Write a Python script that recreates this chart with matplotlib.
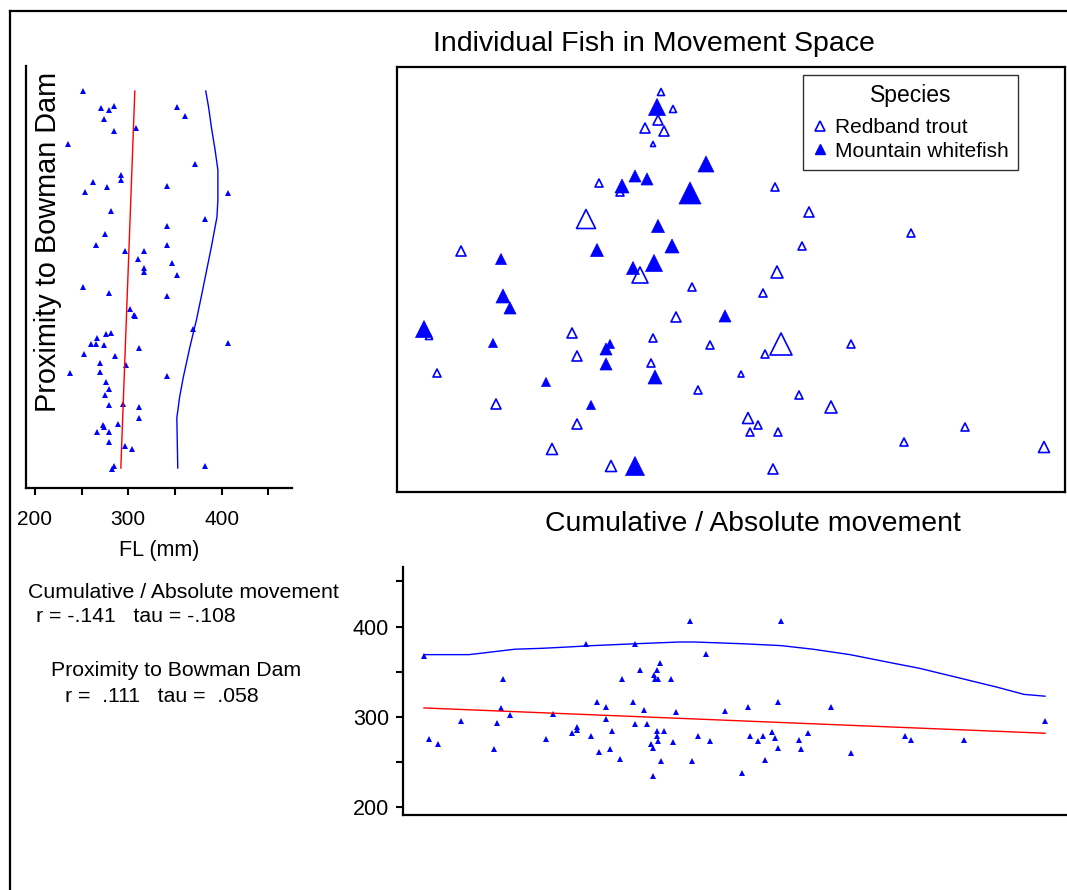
# -*- coding: utf-8 -*-
"""
Individual fish in movement space, with FL margins
"""
import matplotlib
matplotlib.use("Agg")
import matplotlib.pyplot as plt
from matplotlib.lines import Line2D
import numpy as np

plt.rcParams['font.family'] = ['Liberation Sans', 'DejaVu Sans']

# ==================== data ====================
# movement space: x = cumulative / absolute movement, y = proximity to Bowman Dam (arbitrary units)
# size = marker width class (bigger fish -> bigger triangle)
trout_x = [264, 276, 261, 248, 267, 256, 202, 223, 378, 412, 189, 514, 64, 405, 380,
           243, 366, 295, 279, 175, 256, 313, 384, 454, 368, 180, 40, 254, 344, 301,
           402, 99, 434, 351, 361, 353, 381, 180, 568, 507, 155, 647, 214, 376, 32]
trout_y = [400, 383, 372, 364, 361, 348, 309, 300, 305, 280, 273, 259, 241, 246, 220,
           217, 199, 205, 175, 159, 154, 147, 148, 148, 138, 136, 119, 129, 118, 102,
           97, 88, 85, 74, 67, 60, 60, 68, 65, 50, 43, 45, 26, 23, 156]
trout_size = [7, 7, 10, 10, 10, 5, 8, 8, 8, 10, 19, 8, 10, 8, 12,
              16, 8, 8, 10, 10, 8, 8, 22, 8, 8, 10, 8, 8, 6, 8,
              8, 10, 12, 11, 8, 8, 8, 10, 8, 8, 11, 11, 11, 10, 7]

white_x = [260, 309, 293, 238, 250, 225, 261, 200, 275, 104, 257, 236, 106, 113, 27,
           328, 96, 213, 209, 209, 258, 149, 194, 238]
white_y = [385, 328, 299, 316, 313, 306, 266, 242, 246, 233, 229, 224, 196, 184, 163,
           176, 149, 148, 143, 128, 115, 110, 87, 26]
white_size = [17, 16, 22, 12, 12, 14, 13, 13, 14, 11, 17, 13, 14, 12, 17,
              12, 9, 9, 12, 12, 14, 9, 9, 19]

# left margin: FL (mm) against proximity
prox_fl = [251, 271, 279, 285, 274, 352, 361, 308, 285, 235, 371, 292, 292, 262, 277,
           342, 254, 407, 282, 382, 342, 275, 265, 342, 297, 317, 310, 347, 317, 317,
           352, 251, 279, 342, 302, 306, 307, 369, 276, 282, 266, 260, 265, 274, 407,
           311, 253, 286, 238, 270, 298, 270, 342, 276, 279, 275, 294, 311, 279, 311,
           289, 273, 274, 266, 279, 279, 296, 304, 382, 285, 283]
prox_y = [401, 384, 382, 386, 373, 385, 376, 364, 361, 348, 328, 317, 312, 310, 305,
          306, 300, 299, 281, 273, 266, 258, 247, 247, 241, 241, 233, 229, 224, 220,
          217, 205, 199, 196, 183, 177, 176, 163, 158, 159, 154, 148, 148, 147, 149,
          144, 138, 136, 119, 129, 127, 120, 116, 110, 103, 97, 88, 85, 87, 74,
          68, 67, 65, 60, 60, 50, 46, 43, 26, 26, 23]
prox_lin_y = [24, 401]
prox_lin_fl = [292, 307]
prox_smooth_y = [24, 74, 95, 115, 145, 172, 199, 222, 245, 275, 292, 322, 342, 365, 385, 401]
prox_smooth_fl = [353, 352, 355, 359, 366, 373, 379, 384, 389, 395, 396, 396, 393, 389, 386, 383]

# bottom margin: FL (mm) against cumulative / absolute movement
move_x = [27, 32, 41, 64, 97, 100, 104, 106, 113, 149, 156, 175, 180, 180, 189,
          194, 200, 202, 209, 209, 213, 215, 223, 225, 236, 238, 238, 243, 247, 250,
          254, 256, 256, 257, 258, 260, 260, 260, 261, 261, 263, 264, 267, 274, 276,
          279, 293, 295, 301, 309, 313, 328, 345, 351, 353, 361, 366, 368, 375, 378,
          381, 381, 384, 402, 404, 411, 434, 454, 508, 514, 567, 648]
move_fl = [367, 276, 270, 296, 265, 293, 310, 342, 302, 276, 303, 282, 289, 286, 381,
           279, 317, 261, 311, 298, 264, 284, 254, 342, 317, 381, 292, 352, 308, 292,
           270, 266, 235, 346, 342, 352, 284, 279, 273, 342, 360, 251, 284, 342, 272,
           305, 406, 251, 279, 370, 273, 307, 238, 311, 279, 273, 279, 252, 283, 277,
           317, 266, 406, 275, 264, 282, 311, 260, 279, 275, 275, 295]
move_lin_x = [27, 648]
move_lin_fl = [310, 282]
move_smooth_x = [27, 72, 95, 118, 145, 163, 196, 237, 283, 297, 347, 384, 416, 453,
                 494, 522, 563, 600, 627, 648]
move_smooth_fl = [369, 369, 372, 375, 376, 377, 379, 381, 383, 383, 381, 379, 375, 369,
                  360, 354, 343, 333, 325, 323]

fl_ticks = [200, 250, 300, 350, 400, 450]
fl_ticklabels = ['200', '', '300', '', '400', '']

# ==================== figure ====================
W, H = 1067, 890
fig = plt.figure(figsize=(W / 100, H / 100), dpi=100)
BLUE, RED = '#0000ff', '#ff0000'


def px_axes(l, t, r, b):
    """axes placed by pixel box (left, top, right, bottom)"""
    return fig.add_axes([l / W, 1 - b / H, (r - l) / W, (b - t) / H])


def to_ms(width_px):
    return np.asarray(width_px) * 0.72


# outer frame (left + top only)
fig.add_artist(Line2D([10 / W, 10 / W], [0, 1 - 11 / H], color='black', lw=1.6))
fig.add_artist(Line2D([10 / W, 1], [1 - 11 / H, 1 - 11 / H], color='black', lw=1.6))

# ---- main movement space ----
ax = px_axes(397, 67, 1065, 492)
ax.scatter(trout_x, trout_y, s=to_ms(trout_size) ** 2, marker='^',
           facecolors='none', edgecolors=BLUE, linewidths=1.2)
ax.scatter(white_x, white_y, s=to_ms(white_size) ** 2, marker='^',
           facecolors=BLUE, edgecolors=BLUE, linewidths=0.5)
ax.set_xlim(0, 668)
ax.set_ylim(0, 425)
ax.set_xticks([])
ax.set_yticks([])
for sp in ax.spines.values():
    sp.set_linewidth(1.6)

handles = [
    Line2D([], [], marker='^', ls='none', ms=6.5, mfc='none', mec=BLUE, mew=1.2, label='Redband trout'),
    Line2D([], [], marker='^', ls='none', ms=6.5, mfc=BLUE, mec=BLUE, label='Mountain whitefish'),
]
leg = ax.legend(handles=handles, title='Species', loc='upper right',
                bbox_to_anchor=(1018 / W, 1 - 75 / H), bbox_transform=fig.transFigure,
                borderaxespad=0, fancybox=False, frameon=True, edgecolor='black',
                fontsize=15, title_fontsize=16.5, handlelength=0.8, handletextpad=0.3,
                labelspacing=0.2, borderpad=0.45)
leg.get_frame().set_linewidth(1.0)
leg._legend_box.sep = 8  # gap between "Species" and the entries

fig.text(654 / W, 1 - 44 / H, 'Individual Fish in Movement Space',
         ha='center', va='center', fontsize=20.5)

# ---- left margin: FL vs proximity ----
axl = px_axes(26, 66, 292, 488)
axl.plot(prox_fl, prox_y, '^', color=BLUE, ms=4, mew=0)
axl.plot(prox_lin_fl, prox_lin_y, color=RED, lw=1.0)
axl.plot(prox_smooth_fl, prox_smooth_y, color=BLUE, lw=1.0)
axl.set_xlim(190.4, 475.4)
axl.set_ylim(4, 426)
axl.set_xticks(fl_ticks)
axl.set_xticklabels(fl_ticklabels, fontsize=15)
axl.set_yticks([])
axl.tick_params(axis='x', length=5, width=1.5, pad=11)
axl.spines['top'].set_visible(False)
axl.spines['right'].set_visible(False)
axl.spines['left'].set_linewidth(1.6)
axl.spines['bottom'].set_linewidth(1.6)
axl.set_xlabel('FL (mm)', fontsize=15.5, labelpad=8)

fig.text(48 / W, 1 - 242 / H, 'Proximity to Bowman Dam', rotation=90,
         ha='center', va='center', fontsize=20.8)

# ---- bottom margin: FL vs movement ----
axb = px_axes(403, 567, 1067, 815)
axb.plot(move_x, move_fl, '^', color=BLUE, ms=4, mew=0)
axb.plot(move_lin_x, move_lin_fl, color=RED, lw=1.0)
axb.plot(move_smooth_x, move_smooth_fl, color=BLUE, lw=1.0)
axb.set_xlim(6, 670)
axb.set_ylim(191.5, 466)
axb.set_yticks(fl_ticks)
axb.set_yticklabels(fl_ticklabels, fontsize=15.5)
axb.set_xticks([])
axb.tick_params(axis='y', length=5, width=1.5, pad=5)
axb.spines['top'].set_visible(False)
axb.spines['right'].set_visible(False)
axb.spines['left'].set_linewidth(1.6)
axb.spines['bottom'].set_linewidth(1.6)

fig.text(753 / W, 1 - 524 / H, 'Cumulative / Absolute movement',
         ha='center', va='center', fontsize=20.4)

# ---- correlation notes ----
fig.text(183 / W, 1 - 592 / H, 'Cumulative / Absolute movement', ha='center', va='center', fontsize=15.3)
fig.text(36 / W, 1 - 617 / H, 'r = -.141   tau = -.108', ha='left', va='center', fontsize=15.3)
fig.text(176 / W, 1 - 671 / H, 'Proximity to Bowman Dam', ha='center', va='center', fontsize=15.3)
fig.text(65 / W, 1 - 697 / H, 'r =  .111   tau =  .058', ha='left', va='center', fontsize=15.3)

fig.savefig('out.png', dpi=100)
plt.close(fig)
